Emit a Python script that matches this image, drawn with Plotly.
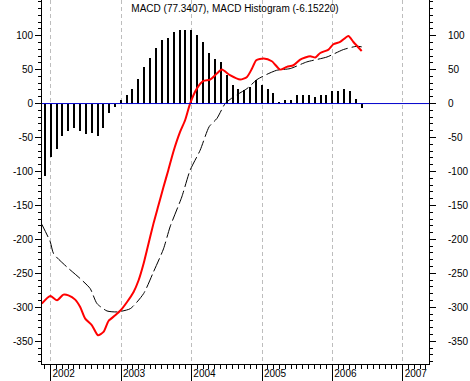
import plotly.graph_objects as go

# Histogram (monthly)
hist_months = [
    "2001-12", "2002-01", "2002-02", "2002-03", "2002-04", "2002-05", "2002-06", "2002-07",
    "2002-08", "2002-09", "2002-10", "2002-11", "2002-12",
    "2003-01", "2003-02", "2003-03", "2003-04", "2003-05", "2003-06", "2003-07", "2003-08",
    "2003-09", "2003-10", "2003-11", "2003-12",
    "2004-01", "2004-02", "2004-03", "2004-04", "2004-05", "2004-06", "2004-07", "2004-08",
    "2004-09", "2004-10", "2004-11", "2004-12",
    "2005-01", "2005-02", "2005-03", "2005-04", "2005-05", "2005-06", "2005-07", "2005-08",
    "2005-09", "2005-10", "2005-11", "2005-12",
    "2006-01", "2006-02", "2006-03", "2006-04", "2006-05", "2006-06",
]
hist_values = [
    -106, -78, -67, -48, -40, -36, -41, -45, -44, -48, -36, -14, -5,
    5, 13, 21, 36, 54, 67, 82, 93, 97, 105, 108, 108,
    108, 101, 90, 75, 65, 61, 42, 28, 21, 20, 25, 34,
    27, 22, 15, 3, 5, 5, 12, 13, 13, 9, 13, 13,
    19, 19, 21, 19, 7, -6.15220,
]

# MACD line
macd_dates = [
    "2001-11-16", "2001-12-30", "2002-02-03", "2002-03-08", "2002-04-03", "2002-05-08",
    "2002-06-03", "2002-06-29", "2002-08-03", "2002-09-03", "2002-10-02", "2002-10-28",
    "2002-12-02", "2002-12-30", "2003-02-01", "2003-03-07", "2003-04-02", "2003-04-28",
    "2003-05-15", "2003-06-18", "2003-07-14", "2003-08-09", "2003-09-03", "2003-09-29",
    "2003-11-03", "2003-11-29", "2003-12-25", "2004-01-29", "2004-03-03", "2004-04-07",
    "2004-05-12", "2004-06-07", "2004-07-19", "2004-09-10", "2004-10-15", "2004-11-10",
    "2004-12-02", "2005-01-09", "2005-02-21", "2005-04-05", "2005-05-10", "2005-06-13",
    "2005-07-18", "2005-09-08", "2005-10-04", "2005-10-30", "2005-12-12", "2006-01-06",
    "2006-02-10", "2006-03-25", "2006-04-20", "2006-06-02",
]
macd_values = [
    -294.5, -283.3, -289.7, -281.4, -282.4, -288.7,
    -299.5, -316.7, -326.5, -341.2, -336.3, -320.2,
    -311.8, -304.4, -292.2, -277.5, -260.2, -235.6,
    -216.0, -176.8, -149.8, -122.8, -98.2, -71.3,
    -41.8, -24.6, 0.0, 22.0, 33.3, 35.3,
    44.2, 50.0, 41.7, 35.3, 39.2, 51.5,
    63.8, 66.3, 62.3, 50.0, 54.0, 56.4,
    64.8, 69.7, 67.7, 74.5, 79.5, 87.3,
    90.7, 99.6, 90.7, 77.34,
]

# Signal line
signal_dates = [
    "2001-11-16", "2001-12-30", "2002-01-16", "2002-03-26", "2002-06-03", "2002-07-25",
    "2002-08-29", "2002-10-20", "2002-12-11", "2003-02-18", "2003-04-28", "2003-06-18",
    "2003-08-09", "2003-09-12", "2003-11-12", "2003-12-25", "2004-02-15", "2004-04-02",
    "2004-05-12", "2004-06-24", "2004-08-06", "2004-10-15", "2004-12-06", "2005-01-26",
    "2005-03-18", "2005-05-27", "2005-08-21", "2005-12-04", "2006-02-27", "2006-05-08",
    "2006-06-02",
]
signal_values = [
    -177.8, -203.8, -221.0, -240.6, -257.7, -272.5,
    -294.5, -305.4, -306.8, -302.0, -279.8, -248.0,
    -214.0, -181.7, -137.5, -98.2, -68.8, -34.0,
    -22.0, 0.0, 9.8, 22.0, 35.3, 43.0,
    49.0, 51.5, 61.3, 68.6, 79.5, 84.4,
    83.5,
]

year_ticks = ["2002-01-01", "2003-01-01", "2004-01-01", "2005-01-01", "2006-01-01", "2007-01-01"]
year_labels = ["2002", "2003", "2004", "2005", "2006", "2007"]
y_ticks = [100, 50, 0, -50, -100, -150, -200, -250, -300, -350]
y_labels = ["100", "50", "0", "-50", "-100", "-150", "-200", "-250", "-300", "-350"]

title_text = "MACD (77.3407), MACD Histogram (-6.15220)"

FONT = "Liberation Sans, Arial, sans-serif"
DAY_MS = 86400000

fig = go.Figure()
fig.add_trace(go.Bar(
    x=[m + "-01" for m in hist_months], y=hist_values,
    marker=dict(color="black", line=dict(width=0)),
    width=10.4 * DAY_MS, showlegend=False, hoverinfo="x+y",
))
fig.add_trace(go.Scatter(
    x=signal_dates, y=signal_values, mode="lines",
    line=dict(color="black", width=1, dash="14px,4px", shape="spline", smoothing=0.6),
    showlegend=False,
))
fig.add_trace(go.Scatter(
    x=macd_dates, y=macd_values, mode="lines",
    line=dict(color="#FF0000", width=2, shape="spline", smoothing=0.6),
    showlegend=False,
))
# invisible trace to carry the right-hand axis
fig.add_trace(go.Scatter(
    x=[macd_dates[0]], y=[macd_values[0]], yaxis="y2", mode="markers",
    marker=dict(opacity=0), showlegend=False, hoverinfo="skip",
))

yrange = [-383.5, 152.5]
yaxis_common = dict(
    range=yrange, tickmode="array", tickvals=y_ticks, ticktext=y_labels,
    ticks="outside", ticklen=6, tickwidth=1, tickcolor="black",
    showline=True, linecolor="black", linewidth=1,
    showgrid=False, zeroline=False,
    tickfont=dict(family=FONT, size=10, color="black"),
    minor=dict(tickmode="linear", tick0=0, dtick=10, ticklen=3, ticks="outside",
               tickcolor="black", showgrid=False),
    fixedrange=True,
)

fig.update_layout(
    width=470, height=381,
    margin=dict(l=42, r=41, t=0, b=17),
    paper_bgcolor="white", plot_bgcolor="white",
    bargap=0,
    title=dict(text=title_text, x=0.5, xref="container", xanchor="center",
               y=1 - 8.5 / 381, yref="container", yanchor="middle",
               font=dict(family=FONT, size=10, color="black")),
    xaxis=dict(
        type="date", range=["2001-11-17", "2007-05-17"],
        tickmode="array", tickvals=year_ticks, ticktext=year_labels,
        ticks="outside", ticklen=17, tickwidth=1, tickcolor="black",
        ticklabelshift=13, ticklabelstandoff=-17,
        showline=True, linecolor="black", linewidth=1,
        showgrid=True, gridcolor="#BDBDBD", gridwidth=1, griddash="4px,3px",
        zeroline=False,
        tickfont=dict(family=FONT, size=10, color="black"),
        minor=dict(dtick="M1", tick0="2002-01-01", ticklen=4, ticks="outside",
                   tickcolor="black", showgrid=False),
        fixedrange=True,
    ),
    yaxis=dict(**yaxis_common, side="left"),
    yaxis2=dict(**yaxis_common, side="right", overlaying="y", ticklabelstandoff=10),
    shapes=[dict(type="line", xref="paper", x0=0, x1=1, yref="y", y0=0, y1=0,
                 line=dict(color="#0000CC", width=1), layer="above")],
)

fig.write_html(
    "out.html",
    config={"displayModeBar": False},
    post_script="document.body.style.margin='0';document.body.style.padding='0';",
)
